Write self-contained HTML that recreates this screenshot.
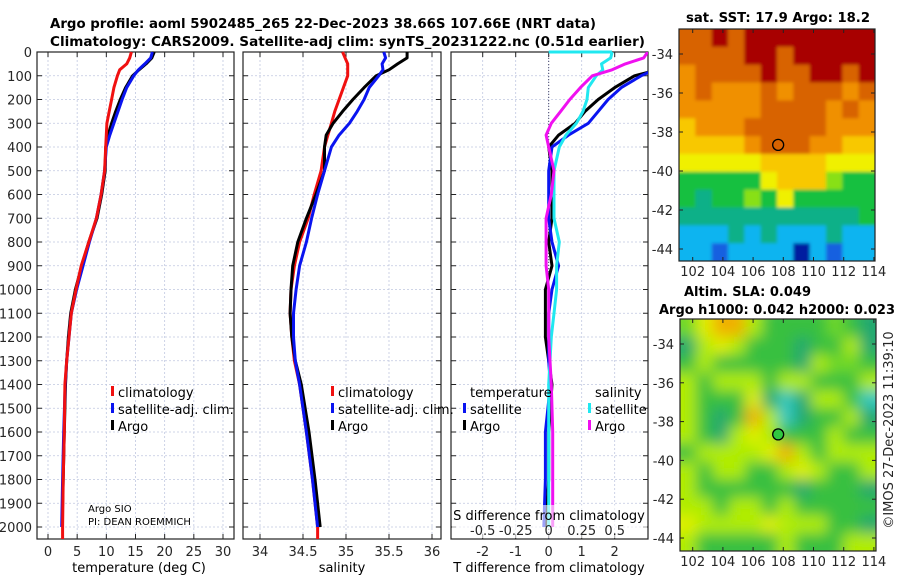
<!DOCTYPE html>
<html><head><meta charset="utf-8">
<style>
html,body{margin:0;padding:0;background:#fff;}
svg{display:block;font-family:"DejaVu Sans","Liberation Sans",sans-serif;}
.tk{font-size:13px;fill:#262626;}
.tt{font-size:13px;font-weight:bold;fill:#000;}
.lg{font-size:13px;fill:#000;}
</style></head>
<body>
<svg id="fig" width="900" height="580" viewBox="0 0 900 580">
<text class="tt" x="50" y="28" textLength="546" lengthAdjust="spacingAndGlyphs">Argo profile: aoml 5902485_265 22-Dec-2023 38.66S 107.66E (NRT data)</text>
<text class="tt" x="50" y="46" textLength="595" lengthAdjust="spacingAndGlyphs">Climatology: CARS2009. Satellite-adj clim: synTS_20231222.nc (0.51d earlier)</text>
<text class="tt" x="686" y="22" textLength="184" lengthAdjust="spacingAndGlyphs">sat. SST: 17.9 Argo: 18.2</text>
<text class="tt" x="684" y="296" textLength="127" lengthAdjust="spacingAndGlyphs">Altim. SLA: 0.049</text>
<text class="tt" x="659" y="314" textLength="236" lengthAdjust="spacingAndGlyphs">Argo h1000: 0.042 h2000: 0.023</text>
<text class="tk" transform="translate(893,430) rotate(-90)" text-anchor="middle">©IMOS 27-Dec-2023 11:39:10</text>
<g id="g"></g>
</svg>
<script>
const depths=[0,25,50,75,100,150,200,250,300,350,400,500,600,700,800,900,1000,1100,1200,1300,1400,1600,1800,2000];
const tClim=[14.3,14.0,13.5,12.3,11.9,11.3,10.9,10.5,10.1,10.0,9.9,9.7,9.1,8.3,7.0,5.7,4.8,4.0,3.6,3.2,2.9,2.8,2.6,2.5];
const tSat=[17.9,17.6,16.6,15.5,14.7,13.5,12.7,12.0,11.3,10.6,10.0,9.7,9.1,8.3,7.1,6.0,4.9,4.0,3.6,3.2,2.95,2.7,2.5,2.35];
const tArgo=[18.2,17.8,16.8,15.6,14.5,13.3,12.4,11.6,10.9,10.3,9.9,9.8,9.2,8.4,7.0,5.8,4.7,3.9,3.5,3.2,3.0,2.8,2.6,2.4];
const sClim=[34.96,34.99,35.02,35.02,35.02,34.97,34.92,34.87,34.83,34.79,34.75,34.71,34.63,34.56,34.46,34.40,34.36,34.35,34.37,34.40,34.46,34.54,34.61,34.67];
const sSat=[35.44,35.46,35.42,35.43,35.38,35.27,35.21,35.13,35.04,34.92,34.83,34.75,34.67,34.60,34.54,34.46,34.42,34.39,34.39,34.41,34.46,34.54,34.61,34.67];
const sArgo=[35.71,35.71,35.60,35.50,35.35,35.21,35.08,34.96,34.85,34.77,34.75,34.75,34.65,34.54,34.44,34.38,34.36,34.35,34.37,34.41,34.48,34.57,34.64,34.70];
const depthTicks=[0,100,200,300,400,500,600,700,800,900,1000,1100,1200,1300,1400,1500,1600,1700,1800,1900,2000];
const tTicks=[0,5,10,15,20,25,30];
const sTicks=[34,34.5,35,35.5,36];
const sTickLabels=["34","34.5","35","35.5","36"];
const dTTicks=[-2,-1,0,1,2];
const dSTicks=[-0.5,-0.25,0,0.25,0.5];
const dSTickLabels=["-0.5","-0.25","0","0.25","0.5"];
const sstLonTicks=[102,104,106,108,110,112,114];
const sstLatTicks=[-34,-36,-38,-40,-42,-44];
const slaLatTicks=[-34,-36,-38,-40,-42,-44];
const argoLon=107.66, argoLat=-38.66;
const sstRows=["99a9aaaaaaaa","9999aa9aaaaa","89999a99aa9a","898889899989","888889999898","788899999888","777789998877","666667777666","444446777544","434454644444","333333333334","222323222322","221222202122"];
const slaRows=["356642222321","145422212241","242222214332","424442442224","422251014420","421264012241","421454222422","244445642444","424422454224","422222212221","442442422222","544445444221","422222422244"];
const sstPal={"0":"#001aa0","1":"#1860e0","2":"#10b4f0","3":"#10b088","4":"#18c040","5":"#88e018","6":"#f0f000","7":"#f8c800","8":"#f09000","9":"#d86400","a":"#a80000"};
const slaPal={"0":"#30c8c0","1":"#20a870","2":"#38c040","3":"#70d828","4":"#b0ec00","5":"#e0f000","6":"#f0b000"};

const NS="http://www.w3.org/2000/svg";
const G=document.getElementById('g');
function el(tag,attrs,parent,txt){const e=document.createElementNS(NS,tag);for(const k in attrs)e.setAttribute(k,attrs[k]);if(txt!==undefined)e.textContent=txt;(parent||G).appendChild(e);return e;}
const Y0=52,PPX=0.2375,YB=539;
const yD=d=>Y0+d*PPX;
const panels=[
 {name:'temperature',x0:37,x1:234,v0:0,px0:48,scale:5.833},
 {name:'salinity',x0:243,x1:441,v0:34,px0:260,scale:86},
 {name:'difference',x0:451,x1:648,v0:0,px0:548.7,scale:33}
];
const xv=(p,v)=>p.px0+(v-p.v0)*p.scale;

function frame(p,ticks,labels,lblY,name){
  const g=el('g',{});
  
  
  depthTicks.forEach(d=>{const l=el('line',{x1:p.x0,x2:p.x1,y1:yD(d),y2:yD(d),stroke:'#c0c8e0','stroke-width':0.8,'stroke-dasharray':'2,2'},g);
    
    el('line',{x1:p.x0,x2:p.x0+5,y1:yD(d),y2:yD(d),stroke:'#222'},g);el('line',{x1:p.x1-5,x2:p.x1,y1:yD(d),y2:yD(d),stroke:'#222'},g);});
  ticks.forEach((v,i)=>{const x=xv(p,v);
    const l=el('line',{x1:x,x2:x,y1:Y0,y2:YB,stroke:'#c0c8e0','stroke-width':0.8,'stroke-dasharray':'2,2'},g);
    
    el('line',{x1:x,x2:x,y1:YB,y2:YB-5,stroke:'#222'},g);el('line',{x1:x,x2:x,y1:Y0,y2:Y0+5,stroke:'#222'},g);
    const t=el('text',{x:x,y:lblY,'text-anchor':'middle',class:'tk'},g,labels[i]);
    });
  const r=el('rect',{x:p.x0,y:Y0,width:p.x1-p.x0,height:YB-Y0,fill:'none',stroke:'#222','stroke-width':1.2},g);
  
  return g;
}
function line(p,vals,color,name,clip){
  const pts=vals.map((v,i)=>xv(p,v).toFixed(1)+','+yD(depths[i]).toFixed(1)).join(' ');
  const l=el('polyline',{points:pts,fill:'none',stroke:color,'stroke-width':3,'stroke-linejoin':'round','clip-path':clip||''});
  
}
const p1=panels[0],p2=panels[1],p3=panels[2];
frame(p1,tTicks,tTicks.map(String),556,'temperature');
frame(p2,sTicks,sTickLabels,556,'salinity');
frame(p3,dTTicks,dTTicks.map(String),556,'difference');
depthTicks.forEach(d=>{const t=el('text',{x:32,y:yD(d)+5,'text-anchor':'end',class:'tk'},G,String(d));
  });
const defs=el('defs',{});const cp=el('clipPath',{id:'c3'},defs);el('rect',{x:p3.x0,y:Y0,width:p3.x1-p3.x0,height:YB-Y0},cp);
const cpm=el('clipPath',{id:'cm2'},defs);el('rect',{x:680,y:319,width:196,height:232},cpm);
const fb=el('filter',{id:'blur',x:'-10%',y:'-10%',width:'120%',height:'120%'},defs);el('feGaussianBlur',{stdDeviation:7},fb);
const fb1=el('filter',{id:'blur1',x:'-5%',y:'-5%',width:'110%',height:'110%'},defs);el('feGaussianBlur',{stdDeviation:1.5},fb1);
const cpm1=el('clipPath',{id:'cm1'},defs);el('rect',{x:679,y:29,width:196,height:232},cpm1);
line(p1,tArgo,'#000','temp-argo-line');line(p1,tSat,'#0a14f0','temp-satellite-line');line(p1,tClim,'#f01010','temp-climatology-line');
el('line',{x1:xv(p1,tClim[tClim.length-1]),x2:xv(p1,tClim[tClim.length-1]),y1:yD(2000),y2:YB,stroke:'#f01010','stroke-width':3});
line(p2,sClim,'#f01010','sal-climatology-line');line(p2,sArgo,'#000','sal-argo-line');line(p2,sSat,'#0a14f0','sal-satellite-line');
el('line',{x1:xv(p2,sClim[sClim.length-1]),x2:xv(p2,sClim[sClim.length-1]),y1:yD(2000),y2:YB,stroke:'#f01010','stroke-width':3});
el('line',{x1:p3.px0,x2:p3.px0,y1:Y0,y2:YB,stroke:'#446','stroke-width':1,'stroke-dasharray':'1,2'});
const dTs=tSat.map((v,i)=>v-tClim[i]),dTa=tArgo.map((v,i)=>v-tClim[i]);
const dSs=sSat.map((v,i)=>(v-sClim[i])*4),dSa=sArgo.map((v,i)=>(v-sClim[i])*4);
line(p3,dTa,'#000','tdiff-argo-line','url(#c3)');line(p3,dTs,'#0a14f0','tdiff-satellite-line','url(#c3)');
line(p3,dSs,'#20e8f0','sdiff-satellite-line','url(#c3)');line(p3,dSa,'#f010f0','sdiff-argo-line','url(#c3)');
el('line',{x1:p3.px0,x2:xv(p3,dSs[0]),y1:Y0,y2:Y0,stroke:'#20e8f0','stroke-width':3});
el('rect',{x:p3.x0+1,y:505,width:p3.x1-p3.x0-2,height:33,fill:'#fff','fill-opacity':0.6});
const st=el('text',{x:549,y:520,'text-anchor':'middle',class:'lg'},G,'S difference from climatology');

dSTicks.forEach((v,i)=>{const t=el('text',{x:xv(p3,v*4),y:535,'text-anchor':'middle',class:'tk'},G,dSTickLabels[i]);
  });
[['temperature (deg C)',139,'temp-axis-title'],['salinity',342,'sal-axis-title'],['T difference from climatology',549,'t-diff-axis-title']].forEach(a=>{
  const t=el('text',{x:a[1],y:572,'text-anchor':'middle',class:'lg'},G,a[0]);});
function leg(x,y,color,label,name){const g=el('g',{});
  if(color)el('rect',{x:x-7,y:y-11,width:3,height:10,fill:color},g);el('text',{x:x,y:y,class:'lg'},g,label);}
leg(118,397,'#f01010','climatology','legend-climatology');leg(118,414,'#0a14f0','satellite-adj. clim.','legend-satellite');leg(118,431,'#000','Argo','legend-argo');
leg(338,397,'#f01010','climatology','legend-climatology-2');leg(338,414,'#0a14f0','satellite-adj. clim.','legend-satellite-2');leg(338,431,'#000','Argo','legend-argo-2');
leg(470,397,null,'temperature','legend-temperature-header');leg(470,414,'#0a14f0','satellite','legend-tdiff-satellite');leg(470,431,'#000','Argo','legend-tdiff-argo');
leg(595,397,null,'salinity','legend-salinity-header');leg(595,414,'#20e8f0','satellite','legend-sdiff-satellite');leg(595,431,'#f010f0','Argo','legend-sdiff-argo');
const pi=el('text',{x:88,y:512,style:'font-size:10px'},G,'Argo SIO');
const pi2=el('text',{x:88,y:525,style:'font-size:10px'},G,'PI: DEAN ROEMMICH');

function map(m){
  const g=el('g',{});
  const lonX=lon=>m.lx0+(lon-102)*m.lps, latY=lat=>m.ly0+(-34-lat)*m.lpsy;
  const rows=m.rows,nr=rows.length,nc=rows[0].length;
  const cw=(m.x1-m.x0)/nc,ch=(m.y1-m.y0)/nr;
  const cg=el('g',{'clip-path':m.clip},g);
  const ig=el('g',{filter:m.filter},cg);
  el('rect',{x:m.x0,y:m.y0,width:m.x1-m.x0,height:m.y1-m.y0,fill:m.pal[rows[0][0]]},ig);
  rows.forEach((r,i)=>{for(let j=0;j<nc;j++){
    let x=m.x0+j*cw,y=m.y0+i*ch,w=cw+0.6,h=ch+0.6;
    if(j===0){x-=12;w+=12;} if(j===nc-1){w+=12;} if(i===0){y-=12;h+=12;} if(i===nr-1){h+=12;}
    const c=el('rect',{x:x.toFixed(1),y:y.toFixed(1),width:w.toFixed(1),height:h.toFixed(1),fill:m.pal[r[j]]},ig);
    }});
  el('rect',{x:m.x0,y:m.y0,width:m.x1-m.x0,height:m.y1-m.y0,fill:'none',stroke:'#222','stroke-width':1.2},g);
  sstLonTicks.forEach(lon=>{const x=lonX(lon);el('line',{x1:x,x2:x,y1:m.y1,y2:m.y1-4,stroke:'#222'},g);el('line',{x1:x,x2:x,y1:m.y0,y2:m.y0+4,stroke:'#222'},g);
    const t=el('text',{x:x,y:m.y1+15,'text-anchor':'middle',class:'tk'},g,String(lon));});
  m.lat.forEach(lat=>{const y=latY(lat);el('line',{x1:m.x0,x2:m.x0+4,y1:y,y2:y,stroke:'#222'},g);el('line',{x1:m.x1,x2:m.x1-4,y1:y,y2:y,stroke:'#222'},g);
    const t=el('text',{x:m.x0-6,y:y+5,'text-anchor':'end',class:'tk'},g,String(lat));});
  const c=el('circle',{cx:lonX(argoLon),cy:latY(argoLat),r:5.5,fill:m.fill,stroke:'#000','stroke-width':1.3},g);
  
}
map({name:'sst-map',x0:679,x1:875,y0:29,y1:261,lx0:692.7,lps:15.1,ly0:54,lpsy:19.5,rows:sstRows,pal:sstPal,lat:sstLatTicks,fill:'none',clip:'url(#cm1)',filter:'url(#blur1)'});
map({name:'sla-map',x0:680,x1:876,y0:319,y1:551,lx0:692.7,lps:15.1,ly0:344,lpsy:19.4,rows:slaRows,pal:slaPal,lat:slaLatTicks,fill:'#30c840',clip:'url(#cm2)',filter:'url(#blur)'});
</script>
</body></html>
